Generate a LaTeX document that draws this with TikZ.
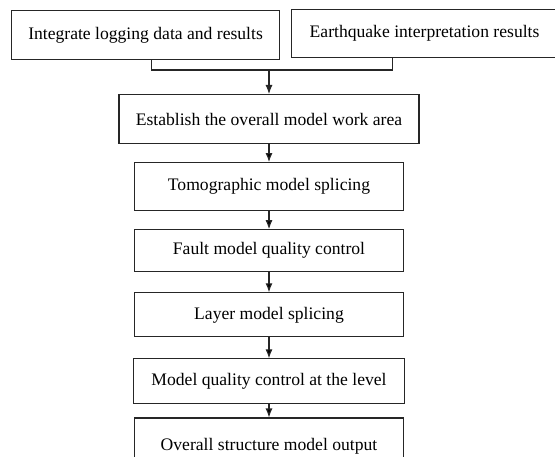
\documentclass[tikz,border=0pt]{standalone}
\usepackage{fontspec}
\setmainfont{Liberation Serif}
\usetikzlibrary{positioning,arrows.meta}

\begin{document}
\begin{tikzpicture}[x=1pt,y=-1pt,>={Latex[length=9pt,width=7pt]},line width=1.1pt,font=\fontsize{17.6}{20}\selectfont]
\tikzstyle{every node}=[inner sep=0pt]
\tikzstyle{stepbox}=[draw=black!85,fill=white,minimum width=269pt,minimum height=45pt,text=black]
\useasboundingbox (0,0) rectangle (555,457);
\clip (0,0) rectangle (555,457);
\node[stepbox,anchor=north west,minimum width=268pt,minimum height=49pt] (logging) at (11,10) {Integrate logging data and results};
\node[stepbox,anchor=north west,minimum width=266pt,minimum height=48pt] (quake) at (291,9) {Earthquake interpretation results};
\node[stepbox,anchor=north,minimum width=300pt,minimum height=49pt] (area) at (269,94) {Establish the overall model work area};
\node[stepbox,minimum height=48pt] (tomo) [below=18pt of area] {Tomographic model splicing};
\node[stepbox,minimum height=42pt] (fault) [below=18pt of tomo] {Fault model quality control};
\node[stepbox,minimum height=44pt] (layer) [below=20pt of fault] {Layer model splicing};
\node[stepbox,minimum width=271pt] (level) [below=21pt of layer] {Model quality control at the level};
\node[stepbox,minimum height=56pt] (output) [below=13pt of level] {Overall structure model output};
\coordinate (join) at (269,70);
\draw[black!85] ([xshift=6pt]logging.south) |- (join) -| ([xshift=-32pt]quake.south);
\draw[->,black!85] (join) -- (area.north);
\path[->,draw=black!85]
(area) edge (tomo)
(tomo) edge (fault)
(fault) edge (layer)
(layer) edge (level)
(level) edge (output)
;
\end{tikzpicture}
\end{document}
